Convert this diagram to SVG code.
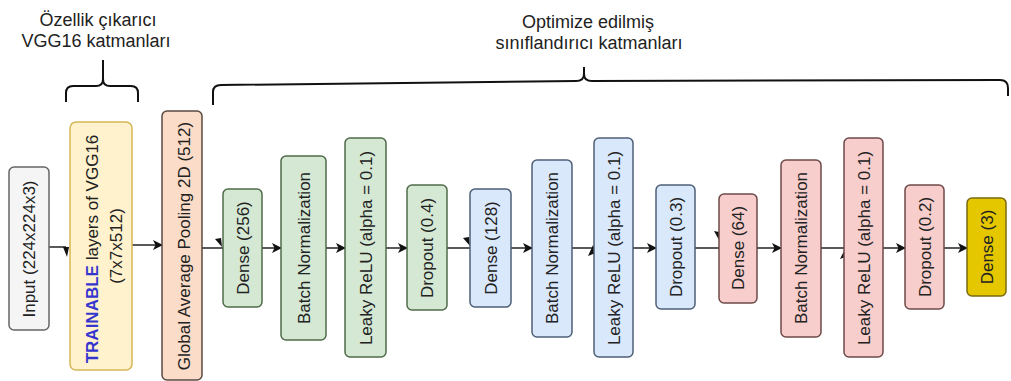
<svg xmlns="http://www.w3.org/2000/svg" width="1011" height="381" viewBox="0 0 1011 381">
<defs>
<style>
.lbl{font-family:"Liberation Sans",Arial,sans-serif;font-size:17px;fill:#222;text-anchor:middle}
.ttl{font-family:"Liberation Sans",Arial,sans-serif;font-size:18px;fill:#222;text-anchor:middle}
.edge{stroke:#222;stroke-width:1.5;fill:none}
.brace{stroke:#111;stroke-width:2;fill:none}
.head{fill:#111}
.gray{fill:#f5f5f5;stroke:#666;stroke-width:1.5}
.yel{fill:#fff2cc;stroke:#d6b656;stroke-width:1.5}
.peach{fill:#fbdcc8;stroke:#5a4a40;stroke-width:1.5}
.grn{fill:#d5e8d4;stroke:#4f6b4a;stroke-width:1.5}
.blu{fill:#dae8fc;stroke:#4e5f78;stroke-width:1.5}
.pnk{fill:#f8cecc;stroke:#6e4a4a;stroke-width:1.5}
.gld{fill:#e5c700;stroke:#7a6a10;stroke-width:1.5}
</style>
<marker id="arr" viewBox="0 0 10 10" refX="9" refY="5" markerWidth="10" markerHeight="10" markerUnits="userSpaceOnUse" orient="auto">
<path d="M0,0 L10,5 L0,10 L2.5,5 z" fill="#111"/>
</marker>
</defs>
<rect width="1011" height="381" fill="#ffffff"/>

<g id="titles">
<text class="ttl" x="98" y="26">Özellik çıkarıcı</text>
<text class="ttl" x="96" y="47">VGG16 katmanları</text>
<text class="ttl" x="588" y="28">Optimize edilmiş</text>
<text class="ttl" x="589" y="49">sınıflandırıcı katmanları</text>
</g>

<g id="braces">
<path class="brace" d="M66,102 L66,93 Q66,86 73,86 L96,86 Q103,86 103,79 L103,60 M103,79 Q103,86 110,86 L131,86 Q138,86 138,93 L138,102"/>
<path class="brace" d="M213,105 L213,92 Q213,85 221,85 L576,81 Q584,81 584,74 L584,67 M584,74 Q584,81 592,81 L1000,80 Q1008,80 1008,88 L1008,96"/>
</g>

<g id="connectors">
<path class="edge" d="M49,247 L66,247"/>
<polygon class="head" points="63,247 69,247 67,257"/>
<path class="edge" d="M132,245 L162,245" marker-end="url(#arr)"/>
<path class="edge" d="M202,248 L223,248"/>
<polygon class="head" points="215,239 221,238 222,247"/>
<path class="edge" d="M262,248 L281,248" marker-end="url(#arr)"/>
<path class="edge" d="M326,248 L345,248" marker-end="url(#arr)"/>
<path class="edge" d="M386,248 L407,248" marker-end="url(#arr)"/>
<path class="edge" d="M447,248 L470,248"/>
<polygon class="head" points="463,238 469,237 470,246"/>
<path class="edge" d="M511,248 L532,248" marker-end="url(#arr)"/>
<path class="edge" d="M572,248 L594,248"/>
<polygon class="head" points="593,245 588,256 593,254 598,256"/>
<path class="edge" d="M633,248 L656,248" marker-end="url(#arr)"/>
<path class="edge" d="M695,248 L719,248"/>
<polygon class="head" points="714,231 719,232 719,240"/>
<path class="edge" d="M757,248 L781,248" marker-end="url(#arr)"/>
<path class="edge" d="M821,248 L844,248"/>
<polygon class="head" points="845,249 840,259 845,257 850,259"/>
<path class="edge" d="M883,248 L905,248" marker-end="url(#arr)"/>
<path class="edge" d="M944,248 L967,248" marker-end="url(#arr)"/>
</g>

<g id="input">
<rect class="gray" x="9" y="167" width="40" height="163" rx="5"/>
<text class="lbl" transform="translate(29,249) rotate(-90)" y="6">Input (224x224x3)</text>
</g>
<g id="trainable">
<rect class="yel" x="70" y="122" width="62" height="248" rx="6"/>
<text class="lbl" transform="translate(101,249) rotate(-90)" y="-3.5"><tspan fill="#3535d0" font-weight="bold">TRAINABLE</tspan> layers of VGG16</text>
<text class="lbl" transform="translate(101,246) rotate(-90)" y="21">(7x7x512)</text>
</g>
<g id="gap">
<rect class="peach" x="162" y="111" width="40" height="269" rx="5"/>
<text class="lbl" transform="translate(183,246) rotate(-90)" y="6.5">Global Average Pooling 2D (512)</text>
</g>

<g id="dense256">
<rect class="grn" x="223" y="189" width="39" height="118" rx="5"/>
<text class="lbl" transform="translate(242.5,248) rotate(-90)" y="6">Dense (256)</text>
</g>
<g id="bn1">
<rect class="grn" x="281" y="156" width="45" height="184" rx="5"/>
<text class="lbl" transform="translate(303.5,248) rotate(-90)" y="6">Batch Normalization</text>
</g>
<g id="leaky1">
<rect class="grn" x="345" y="138" width="41" height="219" rx="5"/>
<text class="lbl" transform="translate(365.5,248) rotate(-90)" y="6">Leaky ReLU (alpha = 0.1)</text>
</g>
<g id="dropout1">
<rect class="grn" x="407" y="185" width="40" height="125" rx="5"/>
<text class="lbl" transform="translate(427,248) rotate(-90)" y="6">Dropout (0.4)</text>
</g>

<g id="dense128">
<rect class="blu" x="470" y="189" width="41" height="118" rx="5"/>
<text class="lbl" transform="translate(490.5,248) rotate(-90)" y="6">Dense (128)</text>
</g>
<g id="bn2">
<rect class="blu" x="532" y="160" width="40" height="177" rx="5"/>
<text class="lbl" transform="translate(552,248) rotate(-90)" y="6">Batch Normalization</text>
</g>
<g id="leaky2">
<rect class="blu" x="594" y="138" width="39" height="219" rx="5"/>
<text class="lbl" transform="translate(613.5,248) rotate(-90)" y="6">Leaky ReLU (alpha = 0.1)</text>
</g>
<g id="dropout2">
<rect class="blu" x="656" y="185" width="39" height="124" rx="5"/>
<text class="lbl" transform="translate(675.5,247) rotate(-90)" y="6">Dropout (0.3)</text>
</g>

<g id="dense64">
<rect class="pnk" x="719" y="194" width="38" height="109" rx="5"/>
<text class="lbl" transform="translate(738,248) rotate(-90)" y="6">Dense (64)</text>
</g>
<g id="bn3">
<rect class="pnk" x="781" y="160" width="40" height="177" rx="5"/>
<text class="lbl" transform="translate(801,248) rotate(-90)" y="6">Batch Normalization</text>
</g>
<g id="leaky3">
<rect class="pnk" x="844" y="138" width="39" height="219" rx="5"/>
<text class="lbl" transform="translate(863.5,248) rotate(-90)" y="6">Leaky ReLU (alpha = 0.1)</text>
</g>
<g id="dropout3">
<rect class="pnk" x="905" y="185" width="39" height="124" rx="5"/>
<text class="lbl" transform="translate(924.5,247) rotate(-90)" y="6">Dropout (0.2)</text>
</g>
<g id="dense3">
<rect class="gld" x="967" y="198" width="39" height="98" rx="5"/>
<text class="lbl" transform="translate(986.5,247) rotate(-90)" y="6">Dense (3)</text>
</g>
</svg>
